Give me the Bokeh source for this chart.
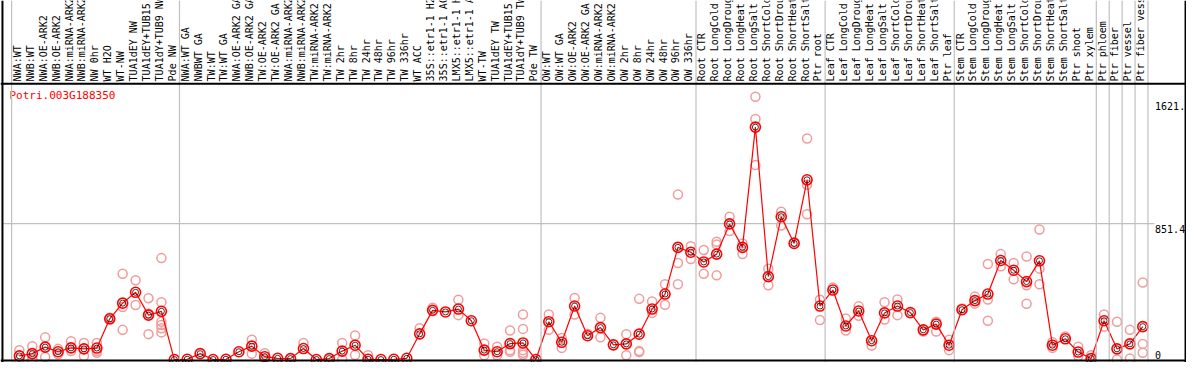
import numpy as np
from bokeh.plotting import figure
from bokeh.models import Range1d, Span
from bokeh.core.properties import value
from bokeh.embed import file_html
from bokeh.resources import INLINE

title = "Potri.003G188350"

categories = [
    "NWA:WT", "NWB:WT", "NWA:OE-ARK2", "NWB:OE-ARK2", "NWA:miRNA-ARK2", "NWB:miRNA-ARK2",
    "NW 0hr", "WT H2O", "WT-NW", "TUA1dEY NW", "TUA1dEY+TUB15 NW", "TUA1dY+TUB9 NW", "Pde NW",
    "NWA:WT GA", "NWBWT GA", "TW:WT", "TW:WT GA", "NWA:OE-ARK2 GA", "NWB:OE-ARK2 GA",
    "TW:OE-ARK2", "TW:OE-ARK2 GA", "NWA:miRNA-ARK2 GA", "NWB:miRNA-ARK2 GA", "TW:miRNA-ARK2",
    "TW:miRNA-ARK2 GA", "TW 2hr", "TW 8hr", "TW 24hr", "TW 48hr", "TW 96hr", "TW 336hr", "WT ACC",
    "35S::etr1-1 H2O", "35S::etr1-1 ACC", "LMX5::etr1-1 H2O", "LMX5::etr1-1 ACC", "WT-TW",
    "TUA1dEY TW", "TUA1dEY+TUB15 TW", "TUA1dY+TUB9 TW", "Pde TW",
    "OW:WT", "OW:WT GA", "OW:OE-ARK2", "OW:OE-ARK2 GA", "OW:miRNA-ARK2", "OW:miRNA-ARK2 GA",
    "OW 2hr", "OW 8hr", "OW 24hr", "OW 48hr", "OW 96hr", "OW 336hr",
    "Root CTR", "Root LongCold", "Root LongDrought", "Root LongHeat", "Root LongSalt",
    "Root ShortCold", "Root ShortDrought", "Root ShortHeat", "Root ShortSalt", "Ptr root",
    "Leaf CTR", "Leaf LongCold", "Leaf LongDrought", "Leaf LongHeat", "Leaf LongSalt",
    "Leaf ShortCold", "Leaf ShortDrought", "Leaf ShortHeat", "Leaf ShortSalt", "Ptr leaf",
    "Stem CTR", "Stem LongCold", "Stem LongDrought", "Stem LongHeat", "Stem LongSalt",
    "Stem ShortCold", "Stem ShortDrought", "Stem ShortHeat", "Stem ShortSalt", "Ptr shoot",
    "Ptr xylem", "Ptr phloem", "Ptr fiber", "Ptr vessel", "Ptr fiber vessel",
]

means = [
    23, 37, 78, 49, 73, 67, 72, 255, 353, 421, 278, 302, 0,
    2, 37, 0, 2, 49, 84, 18, 8, 6, 69, 0, 6, 53, 90, 2, 0, 2, 8, 161, 308, 298, 316, 243,
    59, 49, 100, 104, 0,
    237, 108, 335, 149, 200, 92, 98, 159, 316, 410, 702, 672,
    611, 660, 849, 702, 1455, 519, 894, 727, 1125, 335,
    435, 210, 304, 118, 292, 335, 294, 186, 222, 90,
    312, 369, 410, 620, 559, 488, 618, 90, 130, 47, 6,
    243, 67, 98, 206,
]

rep_idx = [
    0, 0, 1, 1, 1, 2, 2, 3, 3, 4, 4, 5, 5, 6, 6, 6, 7, 7,
    8, 8, 8, 9, 9, 10, 10, 10, 11, 11, 11, 11, 11, 11,
    18, 18, 19, 19, 22, 25, 25, 26, 26, 27, 31, 32, 34, 34, 36, 36, 37, 37,
    38, 38, 38, 39, 39, 39, 39, 39, 41, 41, 42, 42, 43, 43, 44,
    45, 45, 47, 47, 48, 48, 48, 49, 49, 50, 50, 51, 51, 51, 52, 52, 53, 53,
    54, 54, 54, 55, 55, 56, 56, 57, 57, 57, 58, 58, 59, 59, 60, 61, 61, 61, 62, 62,
    63, 64, 64, 65, 65, 66, 67, 67, 68, 68, 70, 71, 71, 72, 72,
    73, 74, 74, 75, 75, 75, 76, 76, 77, 77, 78, 78, 78, 79, 79, 79, 80, 80, 81,
    82, 82, 83, 84, 84, 85, 85, 86, 86, 87, 87, 87,
]
rep_val = [
    59, 0, 84, 6, 0, 139, 16, 67, 33, 114, 53, 104, 22, 104, 53, 43, 250, 262,
    537, 329, 186, 496, 341, 384, 288, 159, 635, 359, 237, 216, 196, 170,
    124, 37, 39, 2, 104, 104, 0, 151, 29, 27, 196, 325, 374, 278, 100, 27, 80, 27,
    182, 59, 49, 282, 192, 59, 43, 30, 282, 186, 135, 73, 386, 282, 161,
    261, 139, 159, 27, 380, 53, 47, 363, 292, 471, 343, 1033, 604, 471, 710, 629, 686, 537,
    737, 720, 527, 894, 804, 727, 660, 1645, 1506, 1217, 569, 465, 925, 839, 735, 1384, 1094, 910, 374, 247,
    451, 257, 182, 333, 274, 88, 359, 251, 376, 278, 176, 237, 176, 124, 59,
    320, 394, 350, 598, 376, 243, 660, 584, 604, 502, 645, 465, 349, 814, 569, 471, 108, 73, 145,
    80, 22, 27, 282, 206, 237, 0, 186, 6, 482, 98, 43,
]

group_bounds = [-0.5, 12.5, 40.5, 52.5, 62.5, 72.5, 83.5, 84.5, 85.5, 86.5, 87.5]
tick_values = [0, 851.4, 1621.0]
tick_labels = ["0", "851.4", "1621."]

FONT = value("DejaVu Sans Mono")
N = len(categories)
idx = list(range(N))

# plot geometry in data units
Y_TOP = 1727.0      # black separator between labels and plot area
Y_BOT = -6.0        # bottom black line
X_LEFT = -1.31
X_RIGHT = 90.31
X_TICKLAB = 87.95

p = figure(width=1186, height=362, output_backend="svg", toolbar_location=None,
           x_range=Range1d(-1.4615, 90.385), y_range=Range1d(-18.4, 2247.4),
           x_axis_location=None, y_axis_location=None, min_border=0)
p.grid.visible = False
p.outline_line_color = None
p.background_fill_color = "white"
p.border_fill_color = "white"

# group separators (full height)
for b in group_bounds:
    p.add_layout(Span(location=b - 0.1, dimension="height", line_color="#c0c0c0", line_width=1.2))

# horizontal grid line at mid tick
p.segment(x0=[X_LEFT], y0=[tick_values[1]], x1=[87.9], y1=[tick_values[1]],
          line_color="#c0c0c0", line_width=1.2)

# frame lines
p.add_layout(Span(location=X_LEFT, dimension="height", line_color="black", line_width=2))
p.add_layout(Span(location=X_RIGHT, dimension="height", line_color="black", line_width=2))
p.add_layout(Span(location=Y_TOP, dimension="width", line_color="black", line_width=2))
p.add_layout(Span(location=Y_BOT, dimension="width", line_color="black", line_width=2))

# vertical category labels
p.text(x=idx, y=[Y_TOP + 14] * N, text=categories, angle=np.pi / 2,
       text_align="left", text_baseline="middle", text_font=FONT,
       text_font_size="10px", text_color="black", x_offset=-2)

# replicate points
p.scatter(x=rep_idx, y=rep_val, marker="circle", size=9, fill_color=None,
          line_color="#f09c9c", line_width=1.5)

# mean line and markers
p.line(x=idx, y=means, line_color="red", line_width=1.2)
p.scatter(x=idx, y=means, marker="circle", size=10, fill_color=None,
          line_color="red", line_width=1.6)
p.scatter(x=idx, y=means, marker="circle", size=6, fill_color=None,
          line_color="black", line_width=0.8)

# title
p.text(x=[-0.77], y=[1653], text=[title], text_align="left", text_baseline="middle",
       text_font=FONT, text_font_size="11px", text_color="red")

# tick labels at right
p.text(x=[X_TICKLAB, X_TICKLAB], y=[tick_values[1], tick_values[2]],
       text=[tick_labels[1], tick_labels[2]],
       text_align="left", text_baseline="top", text_font=FONT, text_font_size="10px",
       text_color="black", y_offset=1)
p.text(x=[X_TICKLAB], y=[tick_values[0]], text=[tick_labels[0]],
       text_align="left", text_baseline="bottom", text_font=FONT, text_font_size="10px",
       text_color="black", y_offset=-1)

open("out.html", "w").write(file_html(p, INLINE))
